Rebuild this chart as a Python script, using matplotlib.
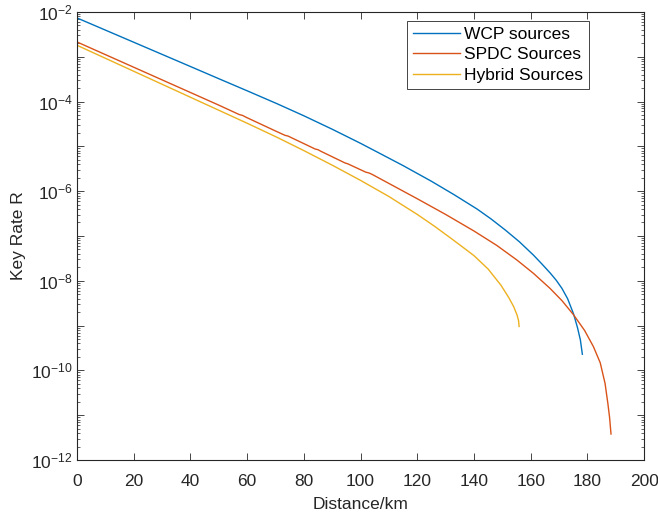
import numpy as np
import matplotlib
matplotlib.use("Agg")
import matplotlib.pyplot as plt
from matplotlib.ticker import LogLocator, FixedLocator, FuncFormatter

# Values (distance in km, log10 of key rate)
wcp_dist = [0, 10, 20, 30, 40, 50, 60, 70.6, 80, 90, 100, 105.9, 115, 125, 133, 141.1, 146, 151,
            156, 161, 164, 166.9, 169, 171, 173, 175.1, 176.5, 177.5, 178.2]
wcp_log = [-2.134, -2.405, -2.676, -2.947, -3.218, -3.49, -3.76, -4.05, -4.318, -4.618, -4.933, -5.128,
           -5.43, -5.78, -6.08, -6.40, -6.62, -6.866, -7.13, -7.43, -7.63, -7.83, -7.99, -8.17, -8.40,
           -8.74, -9.05, -9.32, -9.64]

spdc_dist = [0, 10, 20, 30, 40, 50, 57.2, 58.4, 59.6, 70.6, 73.4, 74.4, 75.4, 84.0, 85.0, 86.0,
             94.5, 95.5, 101.8, 103.0, 104.2, 120, 130, 140, 148, 155.1, 161, 166.8, 171,
             175.1, 179, 182.1, 184.5, 186.2, 187.2, 187.8, 188.3]
spdc_log = [-2.67, -2.952, -3.234, -3.516, -3.798, -4.08, -4.29, -4.31, -4.35, -4.675, -4.755, -4.77,
            -4.80, -5.06, -5.075, -5.11, -5.37, -5.39, -5.575, -5.595, -5.63, -6.17, -6.52, -6.89,
            -7.21, -7.536, -7.837, -8.17, -8.443, -8.76, -9.11, -9.47, -9.83, -10.29, -10.74,
            -11.05, -11.42]

hybrid_dist = [0, 10, 20, 30, 40, 50, 60, 70.6, 80, 90, 100, 110, 120, 126, 131.6, 135, 140,
               145, 149.5, 152.2, 154, 155.2, 155.7, 155.9]
hybrid_log = [-2.744, -3.034, -3.324, -3.614, -3.904, -4.194, -4.484, -4.80, -5.095, -5.42, -5.76,
              -6.12, -6.52, -6.78, -7.04, -7.20, -7.44, -7.74, -8.10, -8.37, -8.58, -8.77, -8.89, -9.02]

labels = ["WCP sources", "SPDC Sources", "Hybrid Sources"]
colors = ["#0072BD", "#D95319", "#EDB120"]

plt.rcParams['font.family'] = ['Liberation Sans', 'DejaVu Sans']
plt.rcParams['mathtext.fontset'] = 'custom'
plt.rcParams['mathtext.rm'] = 'Liberation Sans'
plt.rcParams['mathtext.it'] = 'Liberation Sans'

fs = 12.5
fig = plt.figure(figsize=(6.58, 5.19), dpi=100)
ax = fig.add_axes([0.117, 0.1137, 0.862, 0.8633])

series = [(wcp_dist, wcp_log), (spdc_dist, spdc_log), (hybrid_dist, hybrid_log)]
for (d, lg), lab, c in zip(series, labels, colors):
    ax.semilogy(d, 10.0 ** np.array(lg), color=c, lw=1.0, label=lab)

ax.set_xlim(0, 200)
ax.set_ylim(1e-12, 1e-2)
ax.set_xticks(np.arange(0, 201, 20))

ax.yaxis.set_major_locator(FixedLocator([10.0 ** k for k in range(-12, -1)]))
ax.yaxis.set_minor_locator(LogLocator(base=10, subs=np.arange(2, 10), numticks=20))


def ylab(v, pos):
    k = int(round(np.log10(v)))
    return r"$10^{%d}$" % k if k % 2 == 0 else ""


ax.yaxis.set_major_formatter(FuncFormatter(ylab))

grey = "#262626"
for s in ax.spines.values():
    s.set_color(grey)
    s.set_linewidth(0.8)
ax.tick_params(which='both', direction='in', top=True, right=True, colors=grey, labelsize=fs)
ax.tick_params(which='major', length=5, width=0.6)
ax.tick_params(which='minor', length=2.5, width=0.5)
ax.tick_params(axis='x', pad=10)
ax.tick_params(axis='y', pad=3)

ax.set_xlabel("Distance/km", fontsize=fs, color=grey, labelpad=6)
ax.set_ylabel("Key Rate R", fontsize=fs, color=grey, labelpad=4)

leg = ax.legend(loc='upper right', bbox_to_anchor=(0.903, 0.980), fontsize=fs, frameon=True,
                fancybox=False, framealpha=1, edgecolor=grey, handlelength=2.7,
                handletextpad=0.25, borderpad=0.35, labelspacing=0.3, borderaxespad=0)
leg.get_frame().set_linewidth(0.6)

fig.savefig("out.png", dpi=100)
